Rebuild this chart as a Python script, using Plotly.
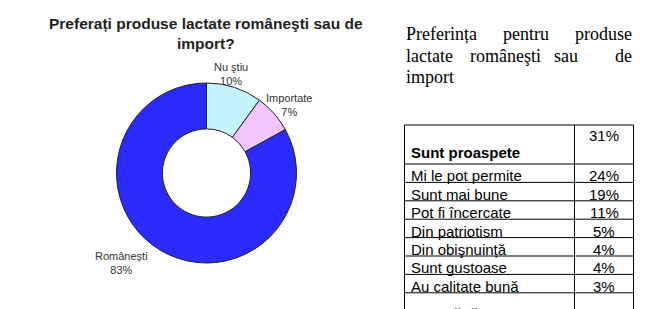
import plotly.graph_objects as go

# ---------------- data ----------------
chart_title = "Preferați produse lactate româneşti sau de<br>import?"
pie_labels = ["Nu ştiu", "Importate", "Românești"]
pie_values = [10, 7, 83]
pie_colors = ["#C6F4FC", "#F4C4FC", "#2B2BFF"]

para_lines = [
    ["Preferința", "pentru", "produse"],
    ["lactate", "româneşti", "sau", "de"],
    ["import"],
]

header_reason = "Sunt proaspete"
header_pct = "31%"
reasons = ["Mi le pot permite", "Sunt mai bune", "Pot fi încercate", "Din patriotism",
           "Din obişnuință", "Sunt gustoase", "Au calitate bună", "Sunt sănătoase"]
reason_pcts = ["24%", "19%", "11%", "5%", "4%", "4%", "3%", "3%"]

# ---------------- layout helpers (pixel space) ----------------
W, H = 645, 309
fig = go.Figure()

# donut: centre (206.5, 173), outer radius 90
cx, cy, r = 206.5, 173, 90
fig.add_trace(go.Pie(
    labels=pie_labels, values=pie_values,
    marker=dict(colors=pie_colors, line=dict(color="#222222", width=1)),
    hole=0.49, sort=False, direction="clockwise", rotation=0,
    textinfo="none", hoverinfo="label+percent", showlegend=False,
    domain=dict(x=[(cx - r) / W, (cx + r) / W], y=[(H - cy - r) / H, (H - cy + r) / H]),
))

# invisible trace to establish pixel axes
fig.add_trace(go.Scatter(x=[0, W], y=[0, H], mode="markers", marker=dict(opacity=0),
                         hoverinfo="skip", showlegend=False))

ann = []
# chart title
ann.append(dict(x=205.5, y=33.5, text="<b>" + chart_title + "</b>", showarrow=False,
                xanchor="center", yanchor="middle",
                font=dict(family="Liberation Sans", size=15.5, color="#222222")))

# pie labels
label_pos = [(231, 74), (289, 105), (121, 263)]
for (lx, ly), lab, v in zip(label_pos, pie_labels, pie_values):
    ann.append(dict(x=lx, y=ly, text=f"{lab}<br>{v}%", showarrow=False,
                    xanchor="center", yanchor="middle",
                    font=dict(family="Liberation Sans", size=11, color="#333333")))

# justified paragraph (word by word)
word_x = [
    [405, 501.5, None],
    [405, 469, 553, None],
    [405],
]
line_y = [34, 55.5, 77]
for words, xs, yy in zip(para_lines, word_x, line_y):
    for w, xx in zip(words, xs):
        if xx is None:
            ann.append(dict(x=634, y=yy, text=w, showarrow=False, xanchor="right",
                            yanchor="middle",
                            font=dict(family="Liberation Serif", size=18, color="#000000")))
        else:
            ann.append(dict(x=xx - 1, y=yy, text=w, showarrow=False, xanchor="left",
                            yanchor="middle",
                            font=dict(family="Liberation Serif", size=18, color="#000000")))

# table
tx0, tx1, tcol = 404.5, 633.5, 574.5
ttop, thead = 125, 164
rowh = 18.4
tfont = dict(family="Liberation Sans", size=15, color="#000000")
shapes = []
lc = dict(color="#000000", width=1)
shapes.append(dict(type="line", x0=tx0, x1=tx1, y0=ttop, y1=ttop, xref="x", yref="y", line=lc))
for xx in (tx0, tcol, tx1):
    shapes.append(dict(type="line", x0=xx, x1=xx, y0=ttop, y1=H + 5, xref="x", yref="y", line=lc))
for i in range(len(reasons)):
    yy = thead + i * rowh
    shapes.append(dict(type="line", x0=tx0, x1=tx1, y0=yy, y1=yy, xref="x", yref="y", line=lc))

ann.append(dict(x=409, y=152, text="<b>" + header_reason + "</b>", showarrow=False,
                xanchor="left", yanchor="middle", font=tfont))
ann.append(dict(x=(tcol + tx1) / 2, y=135, text=header_pct, showarrow=False,
                xanchor="center", yanchor="middle", font=tfont))
for i, (rs, pc) in enumerate(zip(reasons, reason_pcts)):
    yy = thead + (i + 1) * rowh - 6.5
    if i == len(reasons) - 1:
        # last row is cut by the bottom edge: place in paper coordinates
        yy += 9
        ypap = (H - yy) / H
        ann.append(dict(x=409 / W, y=ypap, xref="paper", yref="paper", text=rs,
                        showarrow=False, xanchor="left", yanchor="middle", font=tfont))
        ann.append(dict(x=(tcol + tx1) / 2 / W, y=ypap, xref="paper", yref="paper",
                        text=pc, showarrow=False, xanchor="center", yanchor="middle",
                        font=tfont))
        continue
    ann.append(dict(x=409, y=yy, text=rs, showarrow=False, xanchor="left",
                    yanchor="middle", font=tfont))
    ann.append(dict(x=(tcol + tx1) / 2, y=yy, text=pc, showarrow=False, xanchor="center",
                    yanchor="middle", font=tfont))

fig.update_layout(
    width=W, height=H, margin=dict(l=0, r=0, t=0, b=0),
    paper_bgcolor="white", plot_bgcolor="white",
    xaxis=dict(range=[0, W], visible=False, domain=[0, 1], fixedrange=True),
    yaxis=dict(range=[H, 0], visible=False, domain=[0, 1], fixedrange=True),
    annotations=ann, shapes=shapes,
)
fig.write_html("out.html")
